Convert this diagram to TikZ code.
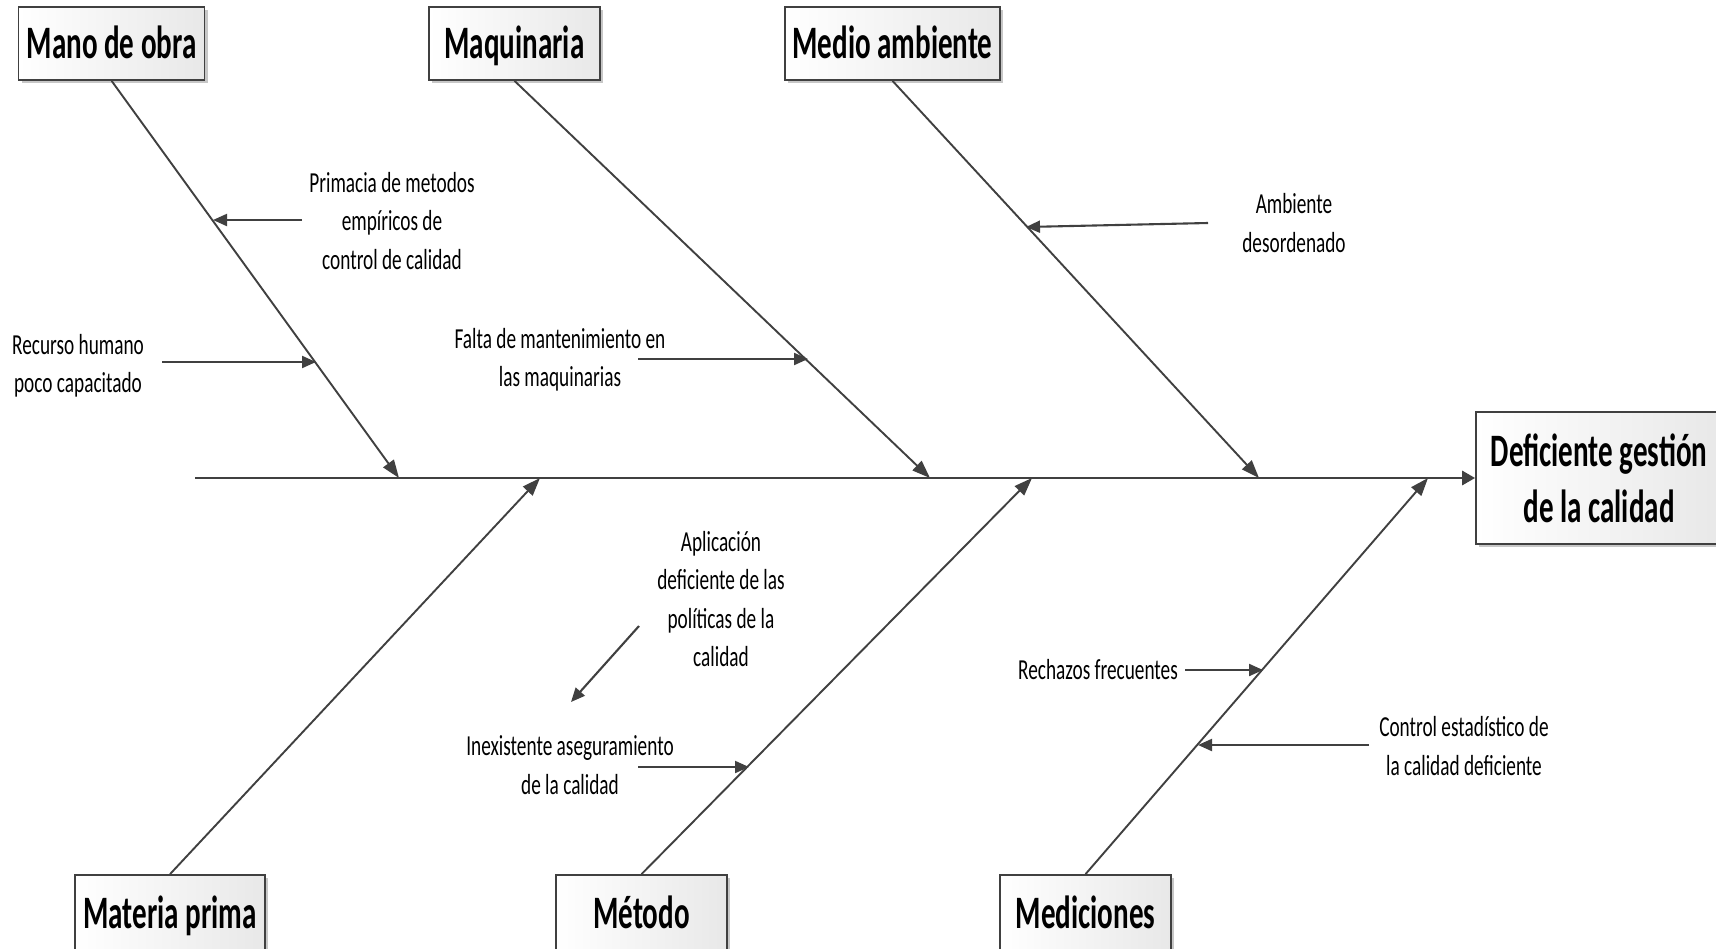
\documentclass[tikz,border=0pt]{standalone}
\usepackage{fontspec}
\setmainfont{Carlito}[FakeStretch=0.665]
\newfontfamily\catfont{Carlito}[FakeStretch=0.625]
\usetikzlibrary{arrows.meta,shadows}
\definecolor{ln}{HTML}{404040}
\begin{document}
\begin{tikzpicture}[x=1pt,y=-1pt,
  cat/.style={draw=ln, line width=1.7pt, left color=white, right color=black!9,
    minimum height=73pt, inner sep=0pt,
    font=\catfont\fontsize{46.5}{56}\selectfont\bfseries,
    drop shadow={shadow xshift=3pt,shadow yshift=-3pt,fill=black,opacity=0.22}},
  oneline/.style={text height=35pt, text depth=5pt},
  lbl/.style={align=center, inner sep=0pt, font=\fontsize{29}{38.5}\selectfont},
  bone/.style={draw=ln, line width=1.9pt, -{Triangle[length=18pt,width=13pt]}},
  twig/.style={draw=ln, line width=2.1pt, -{Triangle[length=14pt,width=12pt]}},
  spine/.style={draw=ln, line width=2.9pt, -{Triangle[length=13pt,width=14pt]}}]
\useasboundingbox (0,0) rectangle (1716,948);
\clip (0,0) rectangle (1716,948);

% category boxes
\node[cat, oneline, minimum width=186pt] (mano)  at (111.6,43.5) {Mano de obra};
\node[cat, oneline, minimum width=171pt] (maq)   at (514.5,43.5) {Maquinaria};
\node[cat, oneline, minimum width=215pt] (medio) at (892.5,43.5) {Medio ambiente};
\node[cat, oneline, minimum width=190pt, minimum height=76pt] (mat)  at (170,913)    {Materia prima};
\node[cat, oneline, minimum width=171pt, minimum height=76pt] (met)  at (641.5,913)  {Método};
\node[cat, oneline, minimum width=171pt, minimum height=76pt] (medi) at (1085.5,913) {Mediciones};

% effect box
\node[cat, minimum width=246pt, minimum height=132pt, align=center] (efecto) at (1599,478)
  {Deficiente gestión\\de la calidad};

% spine
\coordinate (cola) at (195,478);
\draw[spine] (cola) -- (efecto.west);

% points where the bones meet the spine
\coordinate (p1) at (399,478);
\coordinate (p2) at (930,478);
\coordinate (p3) at (1259,478);
\coordinate (q1) at (540,478);
\coordinate (q2) at (1032,478);
\coordinate (q3) at (1428,478);

\draw[bone] (mano.south)  -- (p1);
\draw[bone] (maq.south)   -- (p2);
\draw[bone] (medio.south) -- (p3);
\draw[bone] (mat.north)   -- (q1);
\draw[bone] (met.north)   -- (q2);
\draw[bone] (medi.north)  -- (q3);

% causes
\node[lbl] (prim) at (392,221) {Primacia de metodos\\empíricos de\\control de calidad};
\node[lbl] (recu) at (78,366) {Recurso humano\\poco capacitado};
\node[lbl] (falta) at (560,360) {Falta de mantenimiento en\\las maquinarias};
\node[lbl] (amb) at (1294,223) {Ambiente\\desordenado};
\node[lbl] (apli) at (721,599) {Aplicación\\deficiente de las\\políticas de la\\calidad};
\node[lbl] (inex) at (570,765) {Inexistente aseguramiento\\de la calidad};
\node[lbl] (rech) at (1098,670) {Rechazos frecuentes};
\node[lbl] (ctrl) at (1464,746) {Control estadístico de\\la calidad deficiente};

% cause arrows
\coordinate (a1s) at (302,220);  \coordinate (a1e) at (213,220);
\coordinate (a2s) at (162,362);  \coordinate (a2e) at (316,362);
\coordinate (a3s) at (638,359);  \coordinate (a3e) at (808,359);
\coordinate (a4s) at (1208,223); \coordinate (a4e) at (1026,227);
\coordinate (a5s) at (639,626);  \coordinate (a5e) at (571,702);
\coordinate (a6s) at (638,767);  \coordinate (a6e) at (749,767);
\coordinate (a7s) at (1185,670); \coordinate (a7e) at (1263,670);
\coordinate (a8s) at (1369,745); \coordinate (a8e) at (1198,745);

\draw[twig] (a1s) -- (a1e);
\draw[twig] (a2s) -- (a2e);
\draw[twig] (a3s) -- (a3e);
\draw[twig] (a4s) -- (a4e);
\draw[twig] (a5s) -- (a5e);
\draw[twig] (a6s) -- (a6e);
\draw[twig] (a7s) -- (a7e);
\draw[twig] (a8s) -- (a8e);
\end{tikzpicture}
\end{document}
